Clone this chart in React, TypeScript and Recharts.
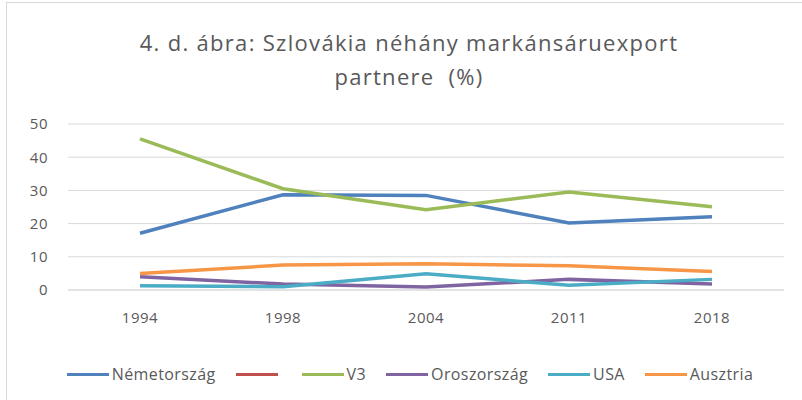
import React from 'react';
import { LineChart, Line, XAxis, YAxis, CartesianGrid } from 'recharts';

const years = ['1994', '1998', '2004', '2011', '2018'];
const nemetorszag = [17.1, 28.7, 28.5, 20.2, 22.1];
const unnamed: (number | null)[] = [null, null, null, null, null];
const v3 = [45.5, 30.5, 24.2, 29.5, 25.1];
const oroszorszag = [4.0, 1.8, 0.9, 3.2, 1.8];
const usa = [1.3, 1.0, 4.9, 1.4, 3.2];
const ausztria = [5.0, 7.5, 7.9, 7.3, 5.6];
const yTicks = [0, 10, 20, 30, 40, 50];

const titleLines = ['4. d. ábra: Szlovákia néhány markánsáruexport', 'partnere  (%)'];

const series = [
  { key: 'nemetorszag', name: 'Németország', color: '#4F81BD', values: nemetorszag },
  { key: 'unnamed', name: '', color: '#C0504D', values: unnamed },
  { key: 'v3', name: 'V3', color: '#9BBB59', values: v3 },
  { key: 'oroszorszag', name: 'Oroszország', color: '#8064A2', values: oroszorszag },
  { key: 'usa', name: 'USA', color: '#4BACC6', values: usa },
  { key: 'ausztria', name: 'Ausztria', color: '#F79646', values: ausztria },
];

const data = years.map((year, i) => {
  const row: Record<string, string | number | null> = { year };
  series.forEach((s) => {
    row[s.key] = s.values[i];
  });
  return row;
});

const FONT = '"Open Sans", sans-serif';
const GREY = '#595959';

export default function App() {
  return (
    <div
      style={{
        position: 'absolute',
        left: 0,
        top: 0,
        width: 802,
        height: 400,
        overflow: 'hidden',
        background: '#ffffff',
        fontFamily: FONT,
      }}
    >
      <div
        style={{
          position: 'absolute',
          left: 6,
          top: 2,
          width: 900,
          height: 500,
          border: '1px solid #D9D9D9',
          boxSizing: 'border-box',
        }}
      />
      <div
        style={{
          position: 'absolute',
          left: 8,
          top: 25,
          width: 802,
          textAlign: 'center',
          fontSize: 22,
          lineHeight: '34px',
          letterSpacing: 1.3,
          color: GREY,
          whiteSpace: 'pre',
        }}
      >
        {titleLines.map((t, i) => (
          <div key={i}>{t}</div>
        ))}
      </div>
      <LineChart
        width={802}
        height={400}
        data={data}
        margin={{ top: 124, right: 18, left: 0, bottom: 80 }}
        style={{ position: 'absolute', left: 0, top: 0 }}
      >
        <CartesianGrid vertical={false} stroke="#D9D9D9" />
        <XAxis
          dataKey="year"
          height={30}
          padding={{ left: 72, right: 72 }}
          axisLine={{ stroke: '#D9D9D9' }}
          tickLine={false}
          tickSize={0}
          tickMargin={22}
          tick={{ fill: GREY, fontSize: 15, fontFamily: FONT, letterSpacing: 0.5 }}
        />
        <YAxis
          width={68}
          domain={[0, 50]}
          ticks={yTicks}
          axisLine={false}
          tickLine={false}
          tickSize={0}
          tickMargin={20}
          tick={{ fill: GREY, fontSize: 15, fontFamily: FONT, letterSpacing: 0.5 }}
        />
        {series.map((s) => (
          <Line
            key={s.key}
            type="linear"
            dataKey={s.key}
            name={s.name}
            stroke={s.color}
            strokeWidth={3.5}
            dot={false}
            isAnimationActive={false}
          />
        ))}
      </LineChart>
      <div
        style={{
          position: 'absolute',
          left: 0,
          top: 362,
          width: 802,
          paddingLeft: 18,
          boxSizing: 'border-box',
          height: 24,
          display: 'flex',
          alignItems: 'center',
          justifyContent: 'center',
          fontSize: 16,
          letterSpacing: 0.4,
          color: GREY,
        }}
      >
        {series.map((s, i) => (
          <div
            key={s.key}
            style={{ display: 'flex', alignItems: 'center', marginLeft: i === 0 ? 0 : 20 }}
          >
            <span
              style={{ display: 'inline-block', width: 42, height: 3, background: s.color, marginRight: s.name ? 3 : 4 }}
            />
            <span>{s.name}</span>
          </div>
        ))}
      </div>
    </div>
  );
}
